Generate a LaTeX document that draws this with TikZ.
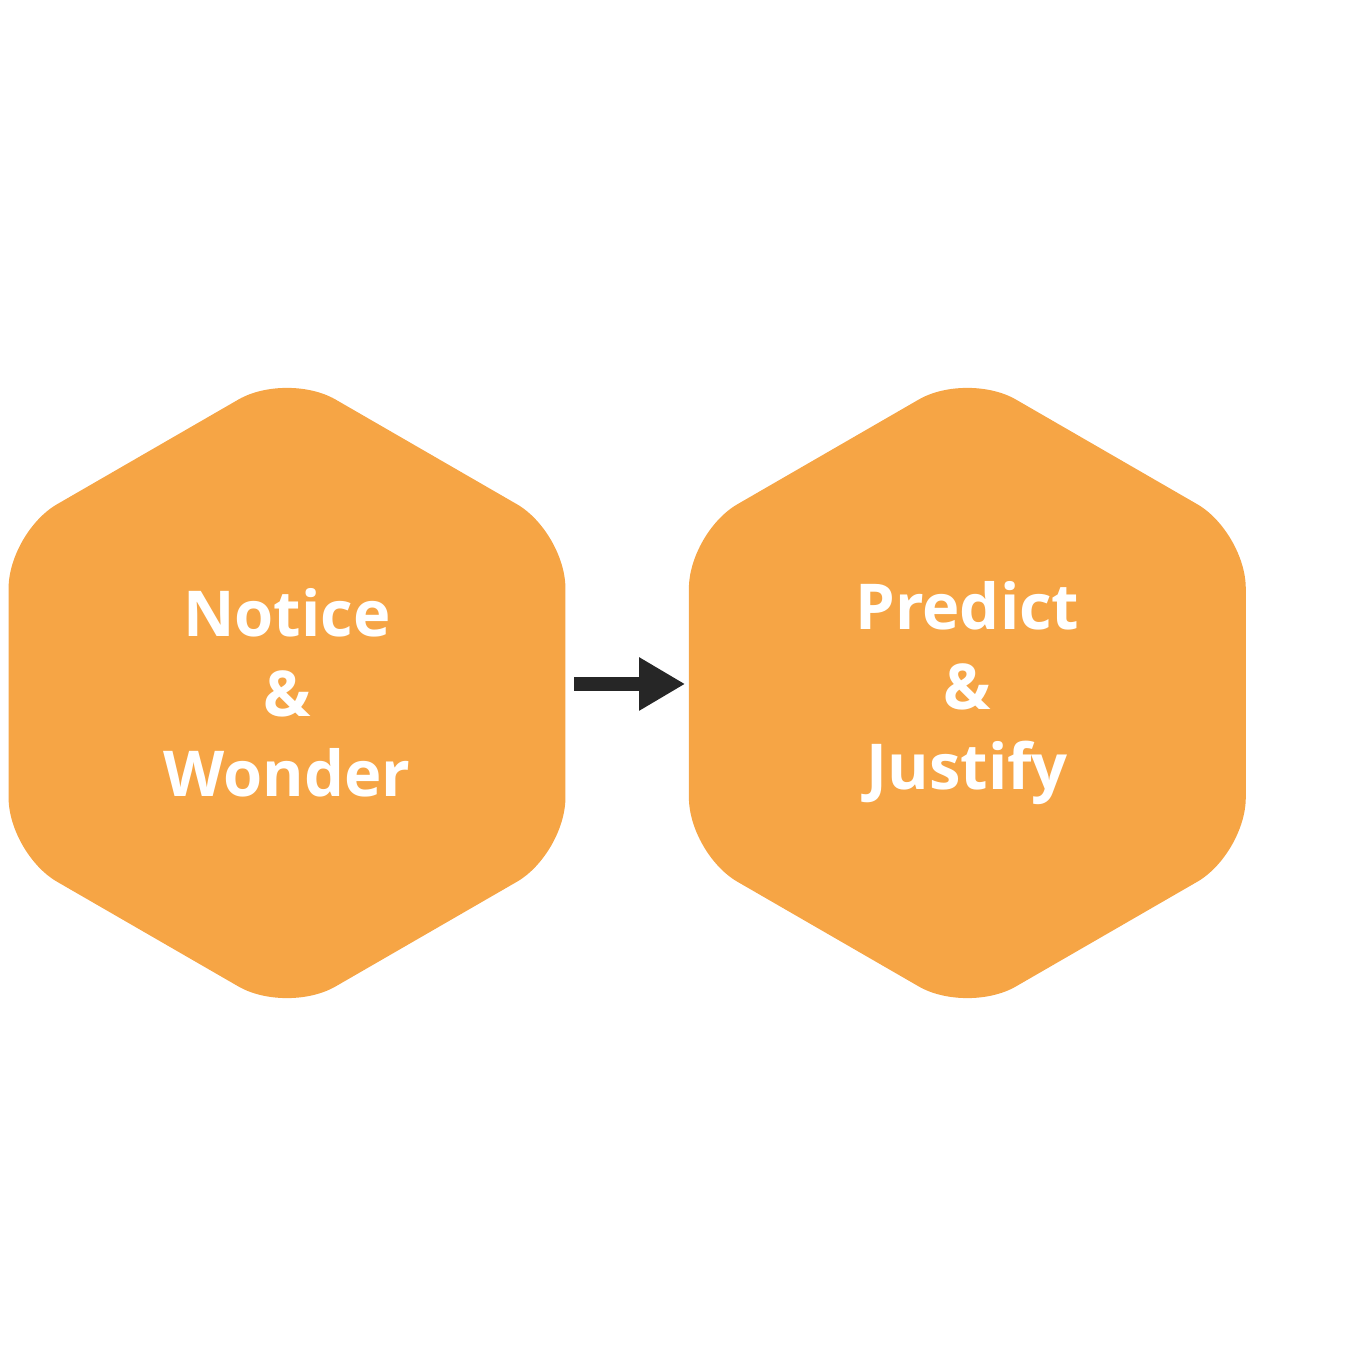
\documentclass[tikz,border=0pt]{standalone}
\usepackage{fontspec}
\setmainfont{Open Sans}
\usetikzlibrary{positioning,arrows.meta,shapes.geometric}
\definecolor{hexorange}{RGB}{246,165,69}
\definecolor{arrowgray}{RGB}{38,38,38}

\begin{document}
\begin{tikzpicture}[
  hexa/.style={regular polygon, regular polygon sides=6, shape border rotate=30,
    minimum size=6.43cm, inner sep=0pt, fill=hexorange, rounded corners=0.56cm,
    text=white, align=center, font=\fontsize{18pt}{22.8pt}\selectfont\bfseries},
  arr/.style={-{Triangle[length=0.46cm,width=0.5cm]}, line width=0.14cm, draw=arrowgray}
]
\useasboundingbox (0,0) rectangle (13.5,13.5);
\node[hexa] (nw) at (2.87,6.57) {Notice\\\&\\Wonder};
\node[hexa, right=1.22cm of nw] (pj) {Predict\\\&\\Justify};
\draw[arr, shorten <=0.08cm, shorten >=0.03cm] ([yshift=0.09cm]nw.east) -- ([yshift=0.09cm]pj.west);
\end{tikzpicture}
\end{document}
